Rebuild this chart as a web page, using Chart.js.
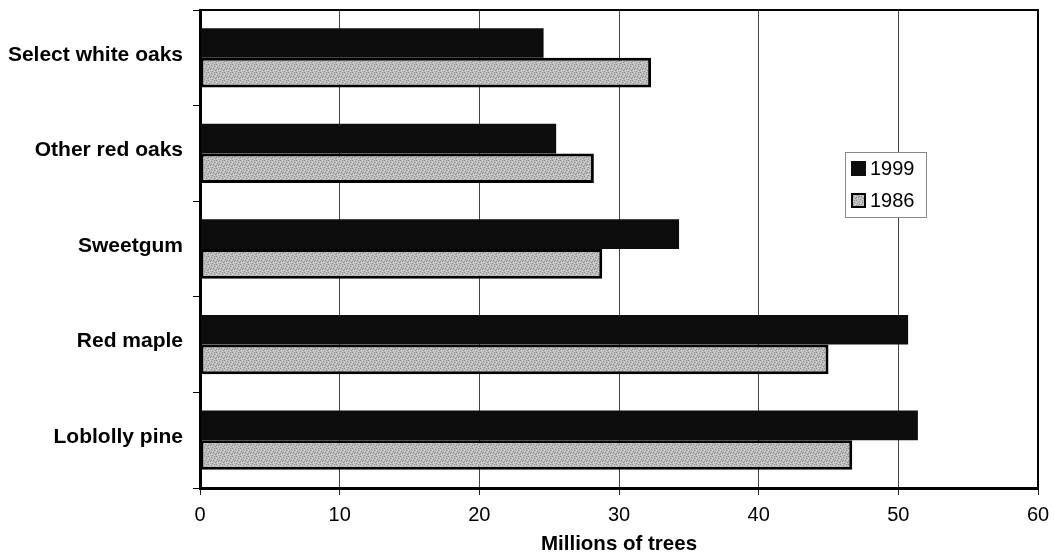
<!DOCTYPE html>
<html>
<head>
<meta charset="utf-8">
<script src="https://cdn.jsdelivr.net/npm/chart.js@4/dist/chart.umd.min.js"></script>
<style>
  html, body { margin: 0; padding: 0; background: #fff; }
  #wrap { width: 1055px; height: 560px; }
</style>
</head>
<body>
<div id="wrap"><canvas id="c" width="1055" height="560"></canvas></div>
<script>
const categories = ['Select white oaks', 'Other red oaks', 'Sweetgum', 'Red maple', 'Loblolly pine'];
const seriesLabels = ['1999', '1986'];
const values1999 = [24.6, 25.5, 34.3, 50.7, 51.4];
const values1986 = [32.3, 28.2, 28.8, 45.0, 46.7];
const xMin = 0, xMax = 60, xStep = 10;
const xTitle = 'Millions of trees';

// stipple pattern for the 1986 series (deterministic dither)
function makeStipple() {
  const c = document.createElement('canvas');
  c.width = 8; c.height = 8;
  const g = c.getContext('2d');
  g.fillStyle = '#bcbcbc';
  g.fillRect(0, 0, 8, 8);
  const dark = [[0,0],[3,1],[6,2],[1,3],[5,4],[2,5],[7,6],[4,7],[6,0],[0,5],[3,4]];
  g.fillStyle = '#8e8e8e';
  dark.forEach(p => g.fillRect(p[0], p[1], 1, 1));
  const light = [[2,0],[5,1],[0,2],[4,3],[7,4],[1,6],[3,6],[6,7]];
  g.fillStyle = '#d8d8d8';
  light.forEach(p => g.fillRect(p[0], p[1], 1, 1));
  return g.createPattern(c, 'repeat');
}
const stipple = makeStipple();

Chart.defaults.font.family = "'Liberation Sans', Arial, sans-serif";
Chart.defaults.color = '#000';

const frame = {
  id: 'frame',
  afterDraw(chart) {
    const a = chart.chartArea, ctx = chart.ctx;
    ctx.save();
    ctx.strokeStyle = '#000';
    ctx.lineWidth = 2;
    ctx.strokeRect(a.left, a.top, a.right - a.left, a.bottom - a.top);
    ctx.restore();
  }
};

const boxLegend = {
  id: 'boxLegend',
  afterDraw(chart) {
    const ctx = chart.ctx;
    const left = 845, top = 152, w = 81, h = 65;
    ctx.save();
    ctx.fillStyle = '#fff';
    ctx.fillRect(left, top, w, h);
    ctx.strokeStyle = '#888';
    ctx.lineWidth = 1;
    ctx.strokeRect(left + 0.5, top + 0.5, w, h);
    chart.data.datasets.forEach((ds, i) => {
      const sy = 161 + i * 32;
      ctx.fillStyle = ds.backgroundColor;
      ctx.fillRect(851, sy, 15, 15);
      if (ds.borderWidth) {
        ctx.strokeStyle = '#000';
        ctx.lineWidth = 2;
        ctx.strokeRect(852, sy + 1, 13, 13);
      }
      ctx.fillStyle = '#000';
      ctx.font = "20px 'Liberation Sans', Arial, sans-serif";
      ctx.textBaseline = 'middle';
      ctx.textAlign = 'left';
      ctx.fillText(ds.label, 870, sy + 8);
    });
    ctx.restore();
  }
};

new Chart(document.getElementById('c'), {
  type: 'bar',
  data: {
    labels: categories,
    datasets: [
      {
        label: seriesLabels[0],
        data: values1999,
        backgroundColor: '#0d0d0d',
        borderWidth: 0,
        categoryPercentage: 0.62,
        barPercentage: 1.0
      },
      {
        label: seriesLabels[1],
        data: values1986,
        backgroundColor: stipple,
        borderColor: '#000',
        borderWidth: 3,
        borderSkipped: false,
        categoryPercentage: 0.62,
        barPercentage: 1.0
      }
    ]
  },
  options: {
    indexAxis: 'y',
    responsive: false,
    animation: false,
    layout: { padding: { top: 10, right: 17, left: 0, bottom: 0 } },
    plugins: {
      legend: { display: false },
      tooltip: { enabled: false }
    },
    scales: {
      x: {
        min: xMin, max: xMax,
        ticks: { stepSize: xStep, font: { size: 20 }, padding: 8, color: '#000' },
        grid: { color: '#444', lineWidth: 1, tickLength: 7, tickColor: '#222' },
        border: { display: true, color: '#000', width: 3 },
        title: { display: true, text: xTitle, font: { size: 20.5, weight: 'bold' }, color: '#000', padding: { top: 4, bottom: 3 } },
        afterFit(scale) { scale.height = 72; scale.paddingLeft = 0; scale.paddingRight = 0; }
      },
      y: {
        ticks: { font: { size: 21, weight: 'bold' }, padding: 10, labelOffset: -3, color: '#000' },
        grid: { drawOnChartArea: false, tickLength: 7, color: '#000', offset: true },
        border: { display: true, color: '#000', width: 3 },
        afterFit(scale) { scale.width = 200; scale.paddingTop = 0; scale.paddingBottom = 0; }
      }
    }
  },
  plugins: [frame, boxLegend]
});
</script>
</body>
</html>
